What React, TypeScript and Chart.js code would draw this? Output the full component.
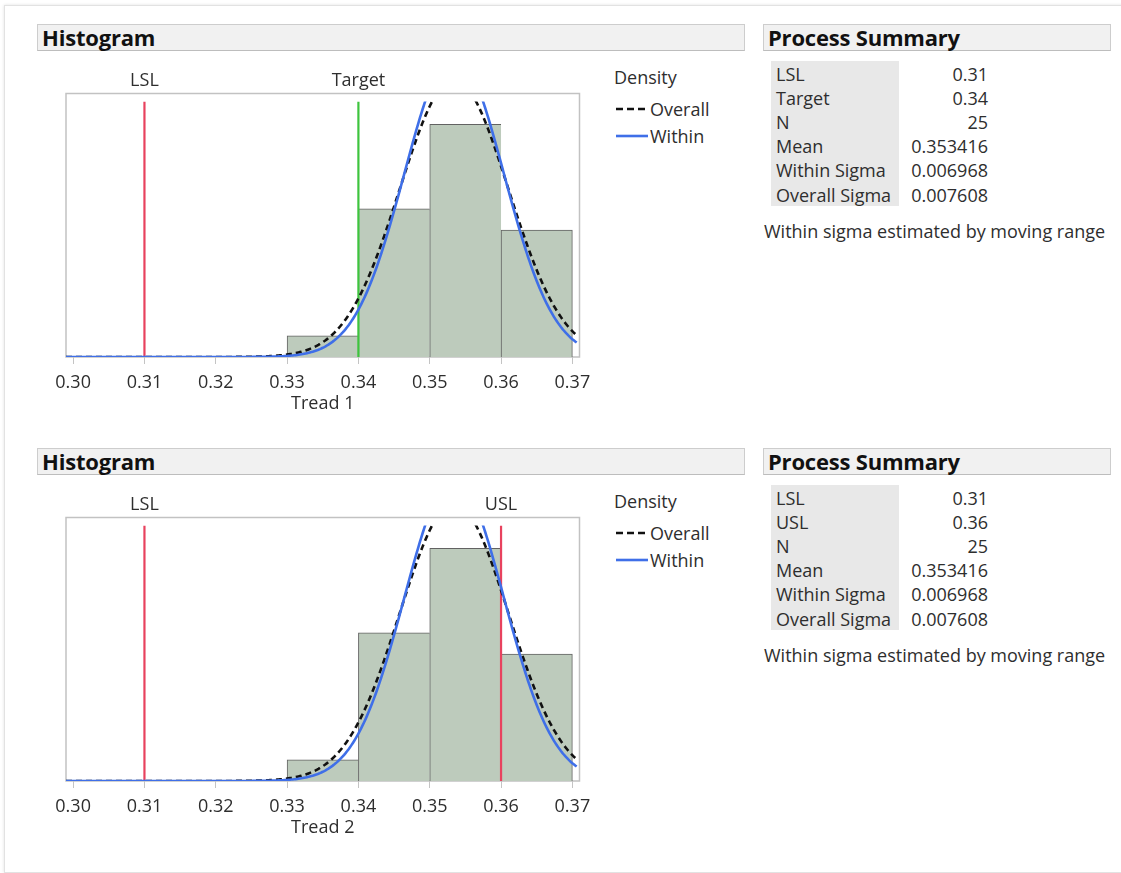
import React, { useEffect, useRef } from "react";
import { Chart, registerables } from "chart.js";

Chart.register(...registerables);

// Histogram bins (left edges), counts and sample size
const BIN_STARTS = [0.33, 0.34, 0.35, 0.36];
const BIN_WIDTH = 0.01;
const BIN_COUNTS = [1, 7, 11, 6];
const N_OBS = 25;

// Fitted normal parameters
const MEAN = 0.353416;
const WITHIN_SIGMA = 0.006968;
const OVERALL_SIGMA = 0.007608;

// Axis
const X_TICKS = [0.3, 0.31, 0.32, 0.33, 0.34, 0.35, 0.36, 0.37];
const X_MIN = 0.299;
const X_MAX = 0.371;
const CURVE_END = 0.3707;
const CURVE_STEP = 0.0002;
const Y_MAX = 48.3;

// Spec limits per variable
const TREAD1_SPEC_LABELS = ["LSL", "Target"];
const TREAD1_SPEC_VALUES = [0.31, 0.34];
const TREAD2_SPEC_LABELS = ["LSL", "USL"];
const TREAD2_SPEC_VALUES = [0.31, 0.36];

// Process summary tables
const TREAD1_SUMMARY_LABELS = ["LSL", "Target", "N", "Mean", "Within Sigma", "Overall Sigma"];
const TREAD1_SUMMARY_VALUES = ["0.31", "0.34", "25", "0.353416", "0.006968", "0.007608"];
const TREAD2_SUMMARY_LABELS = ["LSL", "USL", "N", "Mean", "Within Sigma", "Overall Sigma"];
const TREAD2_SUMMARY_VALUES = ["0.31", "0.36", "25", "0.353416", "0.006968", "0.007608"];

const FONT = "'Open Sans', 'Noto Sans', sans-serif";
const FS = 18;
const TEXT = "#2e2e2e";
const SPEC_COLORS: Record<string, string> = { LSL: "#e8425e", USL: "#e8425e", Target: "#3ec43e" };

function normalCurve(mean: number, sigma: number) {
  const pts: { x: number; y: number }[] = [];
  const k = 1 / (sigma * Math.sqrt(2 * Math.PI));
  for (let x = X_MIN; x <= CURVE_END + 1e-9; x += CURVE_STEP) {
    const z = (x - mean) / sigma;
    pts.push({ x, y: k * Math.exp(-0.5 * z * z) });
  }
  return pts;
}

type ChartProps = { title: string; specLabels: string[]; specValues: number[]; top: number };

function HistogramChart({ title, specLabels, specValues, top }: ChartProps) {
  const ref = useRef<HTMLCanvasElement>(null);

  useEffect(() => {
    if (!ref.current) return;
    const bars = BIN_STARTS.map((s, i) => ({
      x: s + BIN_WIDTH / 2,
      y: BIN_COUNTS[i] / (N_OBS * BIN_WIDTH),
    }));
    const last = bars.length - 1;

    const specSets = specValues.map((v, i) => ({
      type: "line" as const,
      data: [
        { x: v, y: 0 },
        { x: v, y: Y_MAX },
      ],
      borderColor: SPEC_COLORS[specLabels[i]],
      borderWidth: 2.2,
      pointRadius: 0,
      order: 4,
    }));

    const chart = new Chart(ref.current, {
      type: "bar",
      data: {
        datasets: [
          {
            type: "bar",
            data: bars,
            backgroundColor: "#bdcbbc",
            borderColor: "#626262",
            borderWidth: (ctx: any) => ({ top: 1, left: 1, bottom: 0, right: ctx.dataIndex === last ? 1 : 0 }),
            borderSkipped: false,
            barPercentage: 1,
            categoryPercentage: 1,
            order: 5,
          } as any,
          ...specSets,
          {
            type: "line",
            data: normalCurve(MEAN, OVERALL_SIGMA),
            borderColor: "#111111",
            borderDash: [6, 4],
            borderWidth: 2.6,
            pointRadius: 0,
            order: 2,
          },
          {
            type: "line",
            data: normalCurve(MEAN, WITHIN_SIGMA),
            borderColor: "#3f6fe8",
            borderWidth: 2.6,
            pointRadius: 0,
            order: 1,
          },
        ],
      },
      options: {
        animation: false,
        responsive: false,
        maintainAspectRatio: false,
        layout: { padding: { left: 26, right: 20.5, top: 41.5, bottom: 0 } },
        plugins: { legend: { display: false }, tooltip: { enabled: false } },
        scales: {
          x: {
            type: "linear",
            min: X_MIN,
            max: X_MAX,
            offset: false,
            afterBuildTicks: (s: any) => {
              s.ticks = X_TICKS.map((v) => ({ value: v }));
            },
            afterFit: (s: any) => {
              s.height = 73;
            },
            grid: {
              display: true,
              drawOnChartArea: false,
              drawTicks: true,
              tickLength: 7,
              color: "#c4c4c4",
              offset: false,
            },
            border: { display: false },
            ticks: {
              padding: 8,
              autoSkip: false,
              maxRotation: 0,
              color: TEXT,
              font: { family: FONT, size: FS },
              callback: (v: any) => Number(v).toFixed(2),
            },
            title: {
              display: true,
              text: title,
              color: TEXT,
              font: { family: FONT, size: FS },
              padding: { top: 0, bottom: 15 },
            },
          },
          y: { display: false, min: 0, max: Y_MAX },
        },
      },
      plugins: [
        {
          id: "frameAndSpecs",
          beforeDatasetsDraw(c: any) {
            const { ctx, chartArea: a } = c;
            ctx.save();
            ctx.strokeStyle = "#c2c2c2";
            ctx.lineWidth = 1.5;
            ctx.strokeRect(a.left, a.top - 8, a.right - a.left, a.bottom - a.top + 8);
            ctx.restore();
          },
          afterDraw(c: any) {
            const { ctx, chartArea: a, scales } = c;
            ctx.save();
            ctx.font = `${FS}px ${FONT}`;
            ctx.fillStyle = TEXT;
            ctx.textAlign = "center";
            ctx.textBaseline = "middle";
            specValues.forEach((v, i) => {
              ctx.fillText(specLabels[i], scales.x.getPixelForValue(v), a.top - 21);
            });
            ctx.restore();
          },
        },
      ],
    } as any);
    return () => chart.destroy();
  }, []);

  return (
    <canvas
      ref={ref}
      width={560}
      height={370}
      style={{ position: "absolute", left: 40, top, width: 560, height: 370 }}
    />
  );
}

function HeaderBar({ text, left, top, width }: { text: string; left: number; top: number; width: number }) {
  return (
    <div
      style={{
        position: "absolute",
        left,
        top,
        width,
        height: 27,
        boxSizing: "border-box",
        background: "#f1f1f1",
        border: "1px solid #cdcdcd",
        borderBottomColor: "#bdbdbd",
        fontFamily: FONT,
        fontWeight: 700,
        fontSize: 22,
        lineHeight: "25px",
        paddingLeft: 4,
        color: "#111",
        whiteSpace: "nowrap",
        letterSpacing: -0.2,
      }}
    >
      {text}
    </div>
  );
}

function Legend({ top }: { top: number }) {
  const row = { position: "absolute" as const, left: 614, fontFamily: FONT, fontSize: FS, color: TEXT, whiteSpace: "nowrap" as const };
  return (
    <>
      <div style={{ ...row, top: top + 65, lineHeight: "24px" }}>Density</div>
      <div style={{ ...row, top: top + 97, lineHeight: "24px", display: "flex", alignItems: "center" }}>
        <svg width={36} height={10}>
          <line x1={2} y1={5} x2={34} y2={5} stroke="#111" strokeWidth={2.6} strokeDasharray="7 4" />
        </svg>
        Overall
      </div>
      <div style={{ ...row, top: top + 124, lineHeight: "24px", display: "flex", alignItems: "center" }}>
        <svg width={36} height={10}>
          <line x1={2} y1={5} x2={34} y2={5} stroke="#3f6fe8" strokeWidth={2.6} />
        </svg>
        Within
      </div>
    </>
  );
}

function Summary({ top, labels, values }: { top: number; labels: string[]; values: string[] }) {
  const txt = {
    position: "absolute" as const,
    lineHeight: "24px",
    fontFamily: FONT,
    fontSize: FS,
    color: TEXT,
    whiteSpace: "nowrap" as const,
  };
  return (
    <>
      <HeaderBar text="Process Summary" left={763} top={top + 24} width={348} />
      <div
        style={{
          position: "absolute",
          left: 771,
          top: top + 61,
          width: 128,
          height: 145,
          background: "#e8e8e8",
        }}
      />
      {labels.map((l, i) => (
        <div key={l} style={{ ...txt, left: 776, top: top + 61.5 + i * 24.2 }}>
          {l}
        </div>
      ))}
      {values.map((v, i) => (
        <div key={i} style={{ ...txt, left: 888, width: 100, textAlign: "right", top: top + 61.5 + i * 24.2 }}>
          {v}
        </div>
      ))}
      <div style={{ ...txt, left: 764, top: top + 219 }}>Within sigma estimated by moving range</div>
    </>
  );
}

export default function App() {
  return (
    <div
      style={{
        position: "absolute",
        left: 0,
        top: 0,
        width: 1121,
        height: 873,
        overflow: "hidden",
        background: "#ffffff",
      }}
    >
      <div
        style={{
          position: "absolute",
          left: 4,
          top: 5,
          width: 1140,
          height: 866,
          border: "1px solid #e2e2e2",
          boxShadow: "0 0 3px rgba(0,0,0,0.12)",
          background: "#fff",
        }}
      />
      <HeaderBar text="Histogram" left={37} top={24} width={708} />
      <HistogramChart title="Tread 1" specLabels={TREAD1_SPEC_LABELS} specValues={TREAD1_SPEC_VALUES} top={60} />
      <Legend top={0} />
      <Summary top={0} labels={TREAD1_SUMMARY_LABELS} values={TREAD1_SUMMARY_VALUES} />

      <HeaderBar text="Histogram" left={37} top={448} width={708} />
      <HistogramChart title="Tread 2" specLabels={TREAD2_SPEC_LABELS} specValues={TREAD2_SPEC_VALUES} top={484} />
      <Legend top={424} />
      <Summary top={424} labels={TREAD2_SUMMARY_LABELS} values={TREAD2_SUMMARY_VALUES} />
    </div>
  );
}
